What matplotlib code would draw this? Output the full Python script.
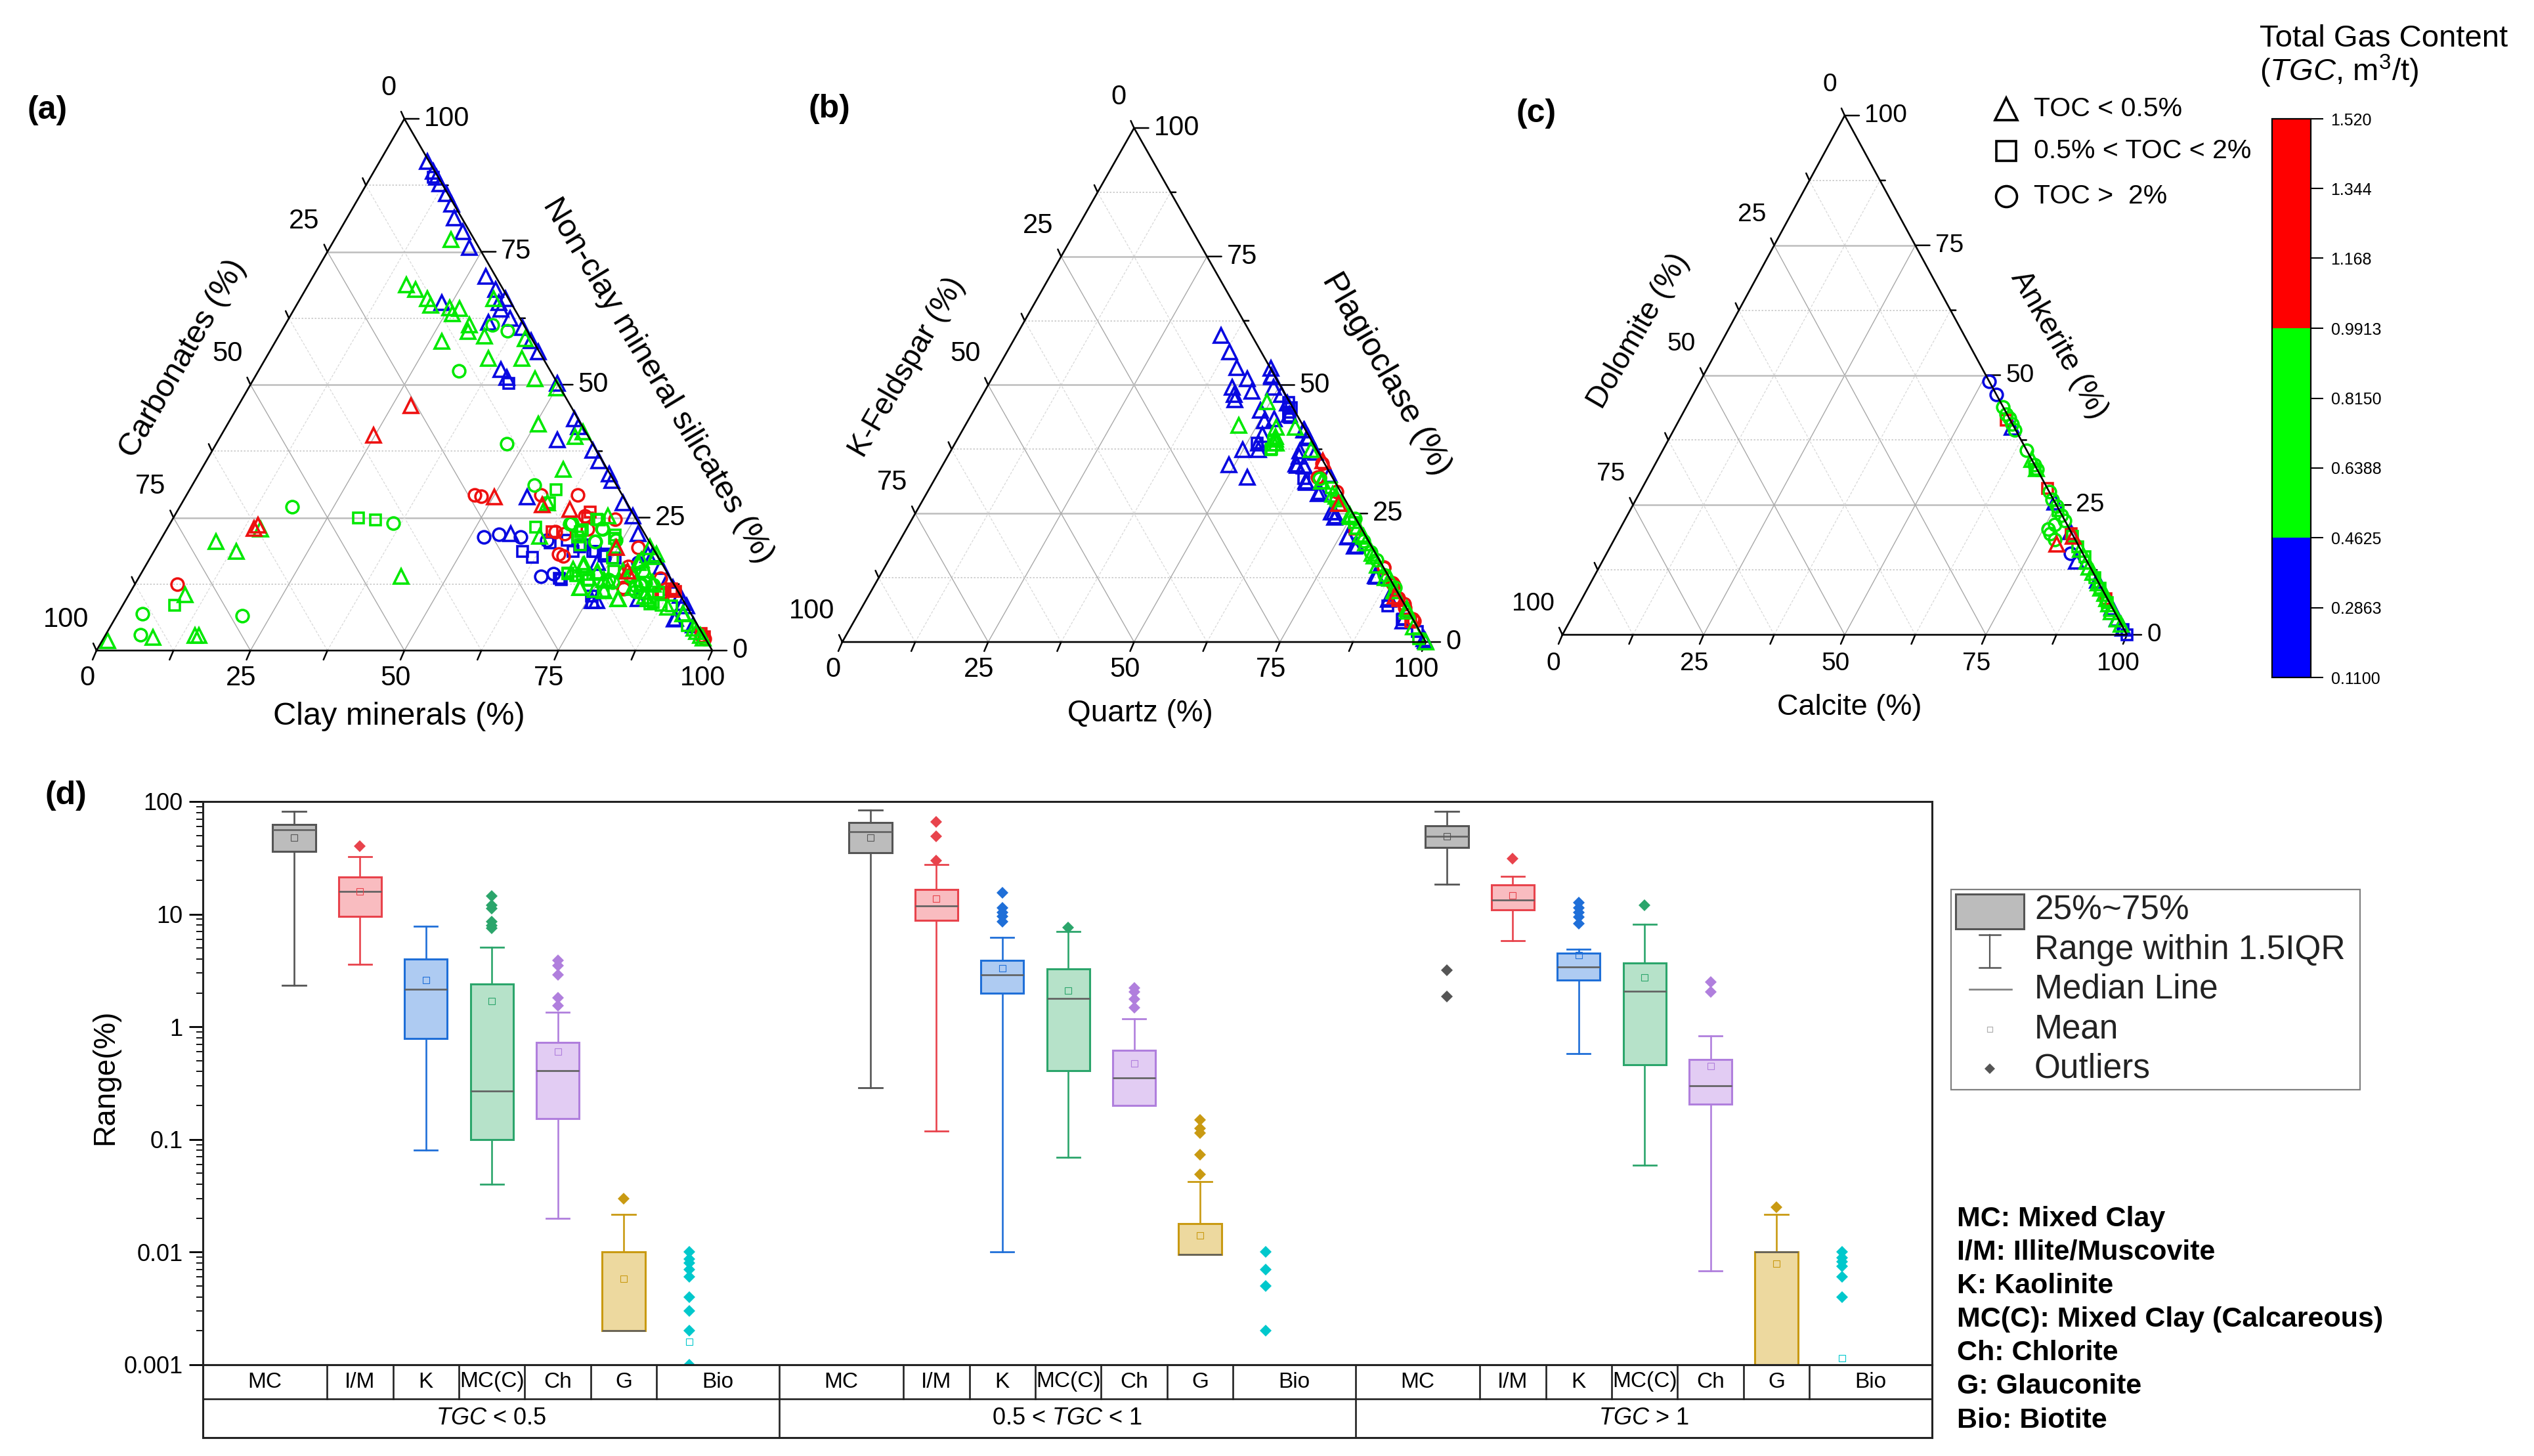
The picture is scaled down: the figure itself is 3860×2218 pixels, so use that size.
import matplotlib
matplotlib.use("Agg")
import matplotlib.pyplot as plt
from matplotlib.colors import ListedColormap, BoundaryNorm
from matplotlib.cm import ScalarMappable
from matplotlib.ticker import LogLocator, NullFormatter
from matplotlib.patches import Rectangle

plt.rcParams['font.family'] = ['Liberation Sans', 'DejaVu Sans']
plt.rcParams['mathtext.fontset'] = 'custom'
plt.rcParams['mathtext.rm'] = 'Liberation Sans'
plt.rcParams['mathtext.it'] = 'Liberation Sans:italic'
plt.rcParams['mathtext.bf'] = 'Liberation Sans:bold'

W, H = 3860, 2218
BLUE, GREEN, RED = '#0808e0', '#00e800', '#ee1010'

# Panel (a): carbonates and non-clay silicates (%), clay is what is left
a_tri_blue_carb = [0.3, 0.3, 0.3, 0.3, 0.2, 0.3, 1.2, 1.1, 1.5, 1.6, 1.2, 0.5, 2, 2.2, 1.6, 5.5, 0.4, 0.3, 0.1, 7.9, 7.7, 0.1, 0.6, 0.7, 5.4, 0.6, 0.6, 0.1, 0.3, 0.6, 0.3, 1, 15.6, 21.7, 11.2, 0.5, 0.6, 2.9, 14.1, 0.4, 0.2, 0.7, 10.4, 7.2,
                   14.85, 3.27, 1.47, 0.48, 0, 0]
a_tri_blue_top = [92, 90.1, 89, 87.8, 85.9, 84, 81.3, 78.8, 75.8, 70.4, 67.9, 66.2, 65.4, 64.2, 62.5, 61.7, 60.8, 58.3, 56.2, 52.9, 51.3, 50.2, 43.6, 42.1, 39.6, 37.6, 35.7, 33.2, 32, 27.8, 25.3, 22, 28.9, 22, 65.4, 18.2, 13.2, 6.1, 9.4, 11.9, 9, 4.8, 16.5, 9.8,
                  9.39, 5.89, 18.03, 15.76, 10.42, 8.36]
a_sq_blue_carb = [21.5, 20.5, 16.2, 13.2, 11.1, 9.7, 8.3, 18, 14.5, 8, 0.8, 8.68, 7.11, 10.04, 11.76, 13.24, 17.87, 15.05]
a_sq_blue_top = [18.6, 17.5, 20.3, 20.7, 19.9, 18.6, 18.2, 13.6, 10.3, 50.2, 89, 17.82, 17.41, 18.65, 19.47, 18.65, 13.3, 9]
a_ci_blue_carb = [26.5, 23.8, 20.4, 20.8, 18.6, 16.5, 3.8]
a_ci_blue_top = [21.3, 21.8, 21.4, 14, 14.4, 20.7, 16.5]

a_tri_red_carb = [25.9, 34.8, 20.9, 13.9, 9.9, 5.9, 62, 62.9, 6.3]
a_tri_red_top = [46, 40.5, 28.9, 27.4, 26.5, 19.4, 23.6, 23, 14.9]
a_sq_red_carb = [6.8, 7.8, 14.8, 2.9, 0.4, 0.2, 0.75, 2.69, 0]
a_sq_red_top = [26.1, 24.9, 22.4, 10.9, 11.1, 3.2, 11.65, 10.62, 2.6]
a_ci_red_carb = [23.9, 23, 13.2, 7.2, 8, 3.4, 14.3, 13, 8.9, 15.8, 15.3, 2.4, 1.6, 80.6, 8.6, 0.6, 0.4, 6.3, 6.75, 5.81, 8.57, 0.16]
a_ci_red_top = [29.3, 29, 29.3, 29.3, 25.3, 24.7, 22.4, 22, 22.8, 18.2, 17.8, 19.4, 13.6, 12.5, 11.9, 11.5, 2.8, 14.2, 14.94, 15.76, 11.65, 2.18]

a_tri_green_carb = [3.8, 15.3, 14.2, 13.2, 13.2, 10.4, 8.9, 10.6, 8.8, 9.7, 7.4, 14.9, 2.4, 3.5, 8.9, 3.2, 0.6, 7, 2.1, 0.5, 7.1, 1, 61.9, 70.4, 68, 80.4, 97.2, 89.6, 82.6, 82, 43.5, 13, 11.2, 10.4, 15.5, 13.3, 10.4, 3.8, 3.3, 5.8, 0, 3.1, 1.2, 0.8, 0.3, 12.9, 4.3, 17.3, 6.1, 15, 7.1, 6.9,
                    12.7, 11.29, 10.94, 15.57, 11.97, 10.38, 3.05, 3.44, 3.36, 5.59, 1.34, 0.9, 0.56, 0.61, 0.39]
a_tri_green_top = [77.3, 68.8, 67.9, 66.2, 65, 64.5, 64.3, 63.3, 61.2, 60, 59.1, 58.1, 66.2, 54.9, 54.9, 51.1, 49.4, 42.6, 40.3, 41.1, 34.1, 58.7, 22.8, 20.5, 18.6, 10.5, 1.9, 2.5, 2.8, 2.8, 14, 16.1, 14.9, 13.2, 11.9, 11.5, 9.8, 16.5, 12.8, 10.3, 18.2, 8.2, 6.9, 3.6, 2.3, 27.8, 25.3, 21.5, 19.4, 15.3, 14.9, 11.9,
                   16.18, 14.74, 13.3, 11.86, 11.24, 9.8, 17, 15.15, 12.47, 9.8, 6.92, 4.24, 2.8, 17.62, 19.47]
a_sq_green_carb = [45, 42.4, 83.1, 10.2, 12.5, 17.1, 10.2, 6.4, 11.5, 16.3, 13.6, 7.5, 5.3, 5.1, 12.2,
                   16.19, 15.15, 13.99, 13.43, 8.53, 4.08, 2.4, 5.74, 3.19, 11.2, 9.77, 6, 4.95, 1.76]
a_sq_green_top = [25, 24.6, 8.5, 30.3, 27.8, 23.2, 22.4, 24.7, 19.9, 14.4, 13.2, 17.4, 21.1, 9, 11.1,
                  14.53, 14.12, 14.32, 13.3, 14.94, 8.56, 8.36, 8.77, 11.03, 21.32, 22.76, 24.61, 21.73, 4.65]
a_ci_green_carb = [14.8, 5.1, 3.2, 13.9, 13.3, 54.7, 39.8, 89.1, 91.4, 73.1, 10.9, 8.8, 6.4, 6.3, 5.5, 6.9, 3.4, 3.8,
                   9.73, 6.19, 6.3, 5.31, 4.5, 6.21, 10.23, 11.2, 6.46, 8.77, 5.29]
a_ci_green_top = [52.6, 61.2, 60.1, 38.9, 31.1, 27, 24, 6.9, 3, 6.5, 23.9, 20.5, 22.8, 14, 12.4, 11.1, 12.4, 14.9,
                  12.88, 13.91, 12.27, 12.47, 12.68, 11.03, 13.3, 23.79, 22.97, 20.5, 20.7]

# Panel (b): K-feldspar and plagioclase (%), quartz is what is left
b_tri_blue_carb = [5.2, 5.4, 5.7, 5, 5.4, 8.4, 8.7, 9.2, 0, 0.6, 1.3, 0.6, 0.5, 1.2, 5.8, 6.2, 4.3, 7.8, 9.3, 10, 12.7, 16.5, 14.6, 0.2, 0.2, 3.7, 4.9, 3.7, 0.5, 0.2, 4.9, 3.5, 3.1, 3.2, 3.1, 2.4, 2, 2.1, 1.9, 0,
                   0.53, 0.25, 0.22, 3, 5, 3.74, 4.98, 3.96, 3.52, 3.49, 3.15, 2.88, 2.2, 2.29, 0]
b_tri_blue_top = [59.7, 56.4, 53.4, 51.2, 48.8, 49.5, 48.2, 47.1, 53.2, 51.6, 49.5, 48.2, 46.5, 44.3, 45.1, 43, 43.4, 40.4, 38.7, 37.4, 37.4, 34.5, 32, 41.3, 40, 36.1, 34.4, 34.4, 36.9, 32.6, 31.3, 29.2, 25.3, 24.5, 20.6, 18.8, 12.8, 8.5, 4.1, 0.3,
                  51.9, 41.25, 39.76, 37.2, 34.65, 34.22, 31, 28.9, 25.28, 24.22, 20.39, 18.7, 12.94, 8.25, 0.59]
b_sq_blue_carb = [0.3, 1.4, 9.6, 1.9, 5, 3, 0.5, 0.19, 0.72, 1.15, 1.58, 1.77]
b_sq_blue_top = [45.6, 43.7, 38.7, 4.3, 31.8, 7, 2, 46.57, 45.5, 44.65, 43.8, 4.42]
b_ci_blue_carb = []
b_ci_blue_top = []

b_tri_red_carb = [1.5, 0.8, 0.02]
b_tri_red_top = [27, 9, 35.3]
b_sq_red_carb = [1.2, 0.8, 0.6]
b_sq_red_top = [22, 8, 4]
b_ci_red_carb = [0.4, 2.5, 0.6, 0, 0, 0.5, 0.2, 0, 0, 0, 0, 0, 2.18]
b_ci_red_top = [34.8, 32.1, 29.3, 14.5, 11.1, 8.5, 6.7, 4.1, 14.43, 11.45, 4.42, 7.4, 32.1]

b_tri_green_carb = [3.9, 11, 4.8, 5.8, 6.3, 1.5, 1, 1.3, 0.6, 0.4, 0.6, 0, 2.1, 0, 0.5, 0.8, 0.4, 0.2, 0.6,
                    6.75, 5.98, 2.23, 1.63, 0.98, 0.77, 0.6, 0.69, 0.47, 0.73, 0.5, 0]
b_tri_green_top = [46.7, 42.1, 41.7, 40, 38.7, 41.7, 37.4, 28.3, 24.8, 20.6, 17.2, 12.4, 31.3, 0, 22.5, 15, 10, 6, 3,
                   38.7, 39.5, 31.24, 28.69, 26.99, 24.43, 21, 19.32, 16.77, 12.51, 9.96, 6.55]
b_sq_green_carb = [7.9, 6.5, 1.7, 0.7, 0.9, 1.2, 7.68]
b_sq_green_top = [37.4, 39.1, 27.4, 23.2, 0.7, 30, 37.6]
b_ci_green_carb = [2.3, 0.8, 0.7, 0.2, 0.6, 0, 0.4]
b_ci_green_top = [31.8, 19.7, 17.5, 24, 13, 10.6, 16]

# Panel (c): dolomite and ankerite (%), calcite is what is left
c_tri_blue_carb = [0, 1.8, 0, 0.2, 0.1, 0.3, 0, 0]
c_tri_blue_top = [10.5, 14.2, 5.3, 3.1, 1.3, 40, 25.5, 19.9]
c_sq_blue_carb = [0, 0.2]
c_sq_blue_top = [0, 1]
c_ci_blue_carb = [0, 0, 2.2]
c_ci_blue_top = [48.8, 46.3, 15.7]

c_tri_red_carb = [0, 3.7]
c_tri_red_top = [19, 17.5]
c_sq_red_carb = [0, 0.8, 0.1, 0.2]
c_sq_red_top = [28.2, 41.3, 19.5, 7]
c_ci_red_carb = []
c_ci_red_top = []

c_tri_green_carb = [0, 0, 0, 0, 0, 0.6, 0, 0.2, 0.1, 0.2, 0.1, 0.3, 0.2, 0.1, 0.2]
c_tri_green_top = [33.7, 32, 16.4, 14.2, 8, 4.4, 12, 6, 10, 3, 2, 13, 9, 7, 5]
c_sq_green_carb = [0.3, 0.3, 0, 0.4, 0.1, 0.2, 0.2, 0.3]
c_sq_green_top = [31.9, 23.9, 15, 6.2, 19, 11, 17, 9]
c_ci_green_carb = [0, 0, 0, 0, 0, 0, 3.7, 2.1, 3.6, 0, 0, 0, 3.8, 0.2, 0.1, 0.2, 0.1]
c_ci_green_top = [43.9, 41.7, 40.6, 35.5, 32.8, 31.9, 20.4, 21.3, 18.3, 27.5, 24.8, 22, 19.5, 26, 23, 42.5, 39.5]

# Panel (d): box statistics, order is MC, I/M, K, MC(C), Ch, G
minerals = ['MC', 'I/M', 'K', 'MC(C)', 'Ch', 'G', 'Bio']
box_edge = ['#555555', '#e8434c', '#1f6fd8', '#2ba56b', '#b07fdd', '#c99a12', '#00c8cc']
box_fill = ['#bcbcbc', '#f9bcc0', '#aecbf2', '#b6e2c9', '#e2ccf3', '#edd99f', '#00c8cc']
group_labels = ['$\\it{TGC}$ < 0.5', '0.5 < $\\it{TGC}$ < 1', '$\\it{TGC}$ > 1']
range_ticks = [0.001, 0.01, 0.1, 1, 10, 100]
range_tick_labels = ['0.001', '0.01', '0.1', '1', '10', '100']

low_1 = [2.34, 3.6, 0.08, 0.04, 0.02, 0.002]
q1_1 = [36.3, 9.5, 0.79, 0.1, 0.153, 0.002]
med_1 = [56, 15.9, 2.15, 0.27, 0.41, 0.002]
q3_1 = [62.7, 21.4, 4.0, 2.4, 0.73, 0.01]
high_1 = [82, 32.3, 7.8, 5.1, 1.35, 0.0215]
mean_1 = [47.5, 16, 2.6, 1.7, 0.6, 0.0058]
out_1 = [[], [40], [], [14.5, 12, 11.2, 8.6, 7.9, 7.5], [3.9, 3.5, 2.9, 1.8, 1.55], [0.03]]
bio_1 = [0.01, 0.0087, 0.008, 0.007, 0.006, 0.004, 0.003, 0.002, 0.001]
bio_mean_1 = [0.0016]

low_2 = [0.286, 0.119, 0.01, 0.0695, 0.2, 0.0095]
q1_2 = [35, 8.8, 2.0, 0.41, 0.2, 0.0095]
med_2 = [54, 11.8, 2.9, 1.78, 0.35, 0.0095]
q3_2 = [65, 16.6, 3.9, 3.25, 0.62, 0.018]
high_2 = [84, 27.7, 6.2, 7, 1.17, 0.0425]
mean_2 = [48, 13.8, 3.3, 2.1, 0.47, 0.0141]
out_2 = [[], [65.6, 49, 30], [15.5, 11.4, 10.4, 9.6, 8.6], [7.6], [2.2, 2.05, 1.75, 1.47], [0.15, 0.126, 0.114, 0.073, 0.049]]
bio_2 = [0.01, 0.007, 0.005, 0.002]
bio_mean_2 = []

low_3 = [18.5, 5.8, 0.58, 0.059, 0.0068, 0.001]
q1_3 = [39, 10.9, 2.6, 0.46, 0.207, 0.001]
med_3 = [49, 13.3, 3.4, 2.08, 0.30, 0.01]
q3_3 = [61, 18.2, 4.5, 3.67, 0.51, 0.01]
high_3 = [82, 21.8, 4.9, 8.1, 0.83, 0.0215]
mean_3 = [49, 14.6, 4.3, 2.75, 0.45, 0.0079]
out_3 = [[3.2, 1.87], [31], [12.6, 11.4, 10.4, 9.4, 8.2], [12], [2.5, 2.04], [0.025]]
bio_3 = [0.01, 0.0089, 0.0082, 0.0075, 0.006, 0.004]
bio_mean_3 = [0.00115]

# Colour scale
cbar_bounds = [0.11, 0.4625, 0.9913, 1.52]
cbar_ticks = [0.11, 0.2863, 0.4625, 0.6388, 0.8150, 0.9913, 1.168, 1.344, 1.52]
cbar_labels = ['0.1100', '0.2863', '0.4625', '0.6388', '0.8150', '0.9913', '1.168', '1.344', '1.520']


def px_axes(fig, left, top, right, bottom):
    return fig.add_axes([left / W, 1 - bottom / H, (right - left) / W, (bottom - top) / H])


def tern(carb, top):
    return 100 - carb - top / 2, top


def label_at(ax, text, xy, dx, dy, **kw):
    ax.annotate(text, xy=xy, xytext=(dx, dy), textcoords='offset pixels',
                annotation_clip=False, **kw)


def tick_at(ax, xy, dx, dy, lw=1.8):
    ax.annotate('', xy=xy, xytext=(dx, dy), textcoords='offset pixels', annotation_clip=False,
                arrowprops=dict(arrowstyle='-', lw=lw, color='black', shrinkA=0, shrinkB=0))


def draw_triangle(ax, fontsize=30):
    ax.set_xlim(0, 100)
    ax.set_ylim(0, 100)
    ax.axis('off')
    for v in [12.5, 25, 37.5, 50, 62.5, 75, 87.5]:
        major = v in (25, 50, 75)
        h_style = dict(color='#bdbdbd', lw=1.8) if major else dict(color='#c8c8c8', lw=1.2, ls=(0, (1.5, 1.5)))
        d_style = dict(color='#a8a8a8', lw=1.0) if major else dict(color='#d8d8d8', lw=0.9, ls=(0, (3, 2)))
        x0, y0 = tern(0, v)
        x1, y1 = tern(100 - v, v)
        ax.plot([x0, x1], [y0, y1], zorder=1, **h_style)
        x0, y0 = tern(v, 0)
        x1, y1 = tern(v, 100 - v)
        ax.plot([x0, x1], [y0, y1], zorder=1, **d_style)
        x0, y0 = tern(100 - v, 0)
        x1, y1 = tern(0, 100 - v)
        ax.plot([x0, x1], [y0, y1], zorder=1, **d_style)
    ax.plot([0, 100, 50, 0], [0, 0, 100, 0], color='black', lw=1.9, zorder=5, clip_on=False)
    for v in [0, 12.5, 25, 37.5, 50, 62.5, 75, 87.5, 100]:
        major = v % 25 == 0
        tick_at(ax, (v, 0), -6, -14)
        tick_at(ax, tern(0, v), 22 if major else 8, 0)
        tick_at(ax, ((100 - v) / 2, 100 - v), -5, 11)
        if major:
            name = str(int(v))
            label_at(ax, name, (v, 0), -14, -62, ha='center', va='bottom', fontsize=fontsize)
            label_at(ax, name, tern(0, v), 30, 0, ha='left', va='center', fontsize=fontsize)
            label_at(ax, name, ((100 - v) / 2, 100 - v), -12, 47, ha='right', va='center', fontsize=fontsize)


def draw_marks(ax, sets):
    for carb, top, marker, size, color in sets:
        x = [100 - c - t / 2 for c, t in zip(carb, top)]
        ax.plot(x, top, ls='none', marker=marker, ms=size, mfc='none', mec=color, mew=2.6,
                zorder=3, clip_on=False)


def panel_sets(tb, tt, sb, st, cb, ct, tr, ttr, sr, str_, cr, ctr, tg, ttg, sg, stg, cg, ctg):
    return [(sb, st, 's', 12, BLUE), (cb, ct, 'o', 13.5, BLUE), (tb, tt, '^', 16, BLUE),
            (sr, str_, 's', 12, RED), (cr, ctr, 'o', 13.5, RED),
            (sg, stg, 's', 12, GREEN), (tg, ttg, '^', 16, GREEN), (cg, ctg, 'o', 13.5, GREEN),
            (tr, ttr, '^', 16, RED)]


fig = plt.figure(figsize=(W / 100, H / 100), dpi=100, facecolor='white')

# overlay in picture pixels for free text and legend keys
lay = fig.add_axes([0, 0, 1, 1], zorder=10)
lay.set_xlim(0, W)
lay.set_ylim(H, 0)
lay.axis('off')
lay.patch.set_alpha(0)

# Ternary panels
ax_a = px_axes(fig, 147, 181, 1085, 991)
draw_triangle(ax_a)
draw_marks(ax_a, panel_sets(a_tri_blue_carb, a_tri_blue_top, a_sq_blue_carb, a_sq_blue_top, a_ci_blue_carb, a_ci_blue_top,
                            a_tri_red_carb, a_tri_red_top, a_sq_red_carb, a_sq_red_top, a_ci_red_carb, a_ci_red_top,
                            a_tri_green_carb, a_tri_green_top, a_sq_green_carb, a_sq_green_top, a_ci_green_carb, a_ci_green_top))
ax_b = px_axes(fig, 1283, 195, 2172, 978)
draw_triangle(ax_b)
draw_marks(ax_b, panel_sets(b_tri_blue_carb, b_tri_blue_top, b_sq_blue_carb, b_sq_blue_top, b_ci_blue_carb, b_ci_blue_top,
                            b_tri_red_carb, b_tri_red_top, b_sq_red_carb, b_sq_red_top, b_ci_red_carb, b_ci_red_top,
                            b_tri_green_carb, b_tri_green_top, b_sq_green_carb, b_sq_green_top, b_ci_green_carb, b_ci_green_top))
ax_c = px_axes(fig, 2380, 176, 3240, 967)
draw_triangle(ax_c, fontsize=28)
draw_marks(ax_c, panel_sets(c_tri_blue_carb, c_tri_blue_top, c_sq_blue_carb, c_sq_blue_top, c_ci_blue_carb, c_ci_blue_top,
                            c_tri_red_carb, c_tri_red_top, c_sq_red_carb, c_sq_red_top, c_ci_red_carb, c_ci_red_top,
                            c_tri_green_carb, c_tri_green_top, c_sq_green_carb, c_sq_green_top, c_ci_green_carb, c_ci_green_top))

titles = [('(a)', 72, 168, 0, 'bold', 36), ('(b)', 1263, 166, 0, 'bold', 36), ('(c)', 2340, 173, 0, 'bold', 36),
          ('(d)', 100, 1212, 0, 'bold', 36),
          ('Carbonates (%)', 279, 546, 60, 'normal', 35), ('Non-clay mineral silicates (%)', 1002, 580, -59, 'normal', 35),
          ('Clay minerals (%)', 608, 1091, 0, 'normal', 35),
          ('K-Feldspar (%)', 1382, 560, 60, 'normal', 33), ('Plagioclase (%)', 2112, 570, -60, 'normal', 36),
          ('Quartz (%)', 1737, 1087, 0, 'normal', 33),
          ('Dolomite (%)', 2496, 504, 60, 'normal', 33), ('Ankerite (%)', 3136, 525, -60, 'normal', 33),
          ('Calcite (%)', 2817, 1078, 0, 'normal', 32.5)]
for text, x, y, rot, weight, size in titles:
    lay.text(x, y, text, rotation=rot, fontweight=weight, fontsize=size, ha='center', va='center',
             rotation_mode='anchor')

# TOC legend
toc_rows = [('^', 'TOC < 0.5%', 166, 25), ('s', '0.5% < TOC < 2%', 230, 21), ('o', 'TOC >  2%', 299, 23)]
for marker, text, y, size in toc_rows:
    lay.plot([3056], [y], marker=marker, ms=size, mfc='none', mec='black', mew=2.6)
    lay.text(3098, y, text, fontsize=29.5, va='center', ha='left')

# Colour bar
cax = px_axes(fig, 3461, 181, 3520, 1032)
cmap = ListedColormap(['#0000ff', '#00ff00', '#ff0000'])
norm = BoundaryNorm(cbar_bounds, cmap.N)
cbar = fig.colorbar(ScalarMappable(norm=norm, cmap=cmap), cax=cax, spacing='proportional', ticks=cbar_ticks)
cbar.ax.set_yticklabels(cbar_labels)
cbar.ax.tick_params(length=14, width=1.5, labelsize=18, pad=8)
cbar.outline.set_linewidth(1.6)
lay.text(3442, 59, 'Total Gas Content', fontsize=34, va='center', ha='left')
lay.text(3442, 108, '($\\it{TGC}$, m$^3$/t)', fontsize=34, va='center', ha='left')

# Box plot
ax_d = px_axes(fig, 309, 1221, 2943, 2079)
unit = 100.4
x_left = 1 - 139 / unit
x_right = x_left + (2943 - 309) / unit
group_step = 878 / unit
ax_d.set_yscale('log')
groups = [(low_1, q1_1, med_1, q3_1, high_1, mean_1, out_1, bio_1, bio_mean_1),
          (low_2, q1_2, med_2, q3_2, high_2, mean_2, out_2, bio_2, bio_mean_2),
          (low_3, q1_3, med_3, q3_3, high_3, mean_3, out_3, bio_3, bio_mean_3)]
for g, (low, q1, med, q3, high, mean, out, bio, bio_mean) in enumerate(groups):
    base = g * group_step
    for i in range(6):
        stats = [dict(med=med[i], q1=q1[i], q3=q3[i], whislo=low[i], whishi=high[i], mean=mean[i], fliers=out[i])]
        edge = box_edge[i]
        ax_d.bxp(stats, positions=[base + i + 1], widths=0.65, capwidths=0.35, patch_artist=True,
                 showmeans=True, manage_ticks=False,
                 boxprops=dict(facecolor=box_fill[i], edgecolor=edge, lw=2.2),
                 whiskerprops=dict(color=edge, lw=1.9), capprops=dict(color=edge, lw=2.0),
                 medianprops=dict(color='#606060', lw=1.9),
                 meanprops=dict(marker='s', ms=7, mfc='none', mec=edge, mew=0.8),
                 flierprops=dict(marker='D', ms=9, mfc=edge, mec=edge, mew=0))
    bio_x = base + 7
    ax_d.plot([bio_x] * len(bio), bio, ls='none', marker='D', ms=9, mfc=box_edge[6], mec=box_edge[6], mew=0)
    ax_d.plot([bio_x] * len(bio_mean), bio_mean, ls='none', marker='s', ms=7, mfc='none', mec=box_edge[6], mew=0.8)

ax_d.set_xlim(x_left, x_right)
ax_d.set_ylim(0.001, 100)
ax_d.set_xticks([])
ax_d.set_yticks(range_ticks, range_tick_labels)
ax_d.yaxis.set_minor_locator(LogLocator(base=10, subs=range(2, 10), numticks=12))
ax_d.yaxis.set_minor_formatter(NullFormatter())
ax_d.tick_params(axis='y', which='major', length=15, width=2, labelsize=26, pad=7)
ax_d.tick_params(axis='y', which='minor', length=7, width=1.3)
for spine in ax_d.spines.values():
    spine.set_linewidth(2.2)
    spine.set_color('#222222')
lay.text(160, 1641, 'Range(%)', rotation=90, fontsize=33, ha='center', va='center')

# Category table under the box plot
ax_t = px_axes(fig, 309, 2079, 2943, 2190)
ax_t.set_xlim(x_left, x_right)
ax_t.set_ylim(2, 0)
ax_t.set_xticks([])
ax_t.set_yticks([])
for spine in ax_t.spines.values():
    spine.set_linewidth(2.2)
    spine.set_color('#222222')
row_split = 52 / 111 * 2
ax_t.axhline(row_split, color='#222222', lw=1.9)
for g in range(3):
    base = g * group_step
    edges = [base + x_left] + [base + i + 1.5 for i in range(6)] + [base + x_left + group_step]
    for e in edges[1:]:
        top_end = row_split if e != edges[-1] else 2
        ax_t.plot([e, e], [0, top_end], color='#222222', lw=1.9)
    for i, name in enumerate(minerals):
        ax_t.text((edges[i] + edges[i + 1]) / 2, row_split / 2, name, ha='center', va='center', fontsize=24)
    ax_t.text((edges[0] + edges[-1]) / 2, (row_split + 2) / 2, group_labels[g], ha='center', va='center', fontsize=26)

# Box plot legend
lay.add_patch(Rectangle((2972, 1355), 623, 305, fc='white', ec='#808080', lw=1.6))
lay.add_patch(Rectangle((2979, 1362), 104, 53, fc='#bcbcbc', ec='#555555', lw=2.2))
lay.plot([3031, 3031], [1424, 1474], color='#555555', lw=1.6)
lay.plot([3015, 3047], [1424, 1424], color='#555555', lw=1.8)
lay.plot([3015, 3047], [1474, 1474], color='#555555', lw=1.8)
lay.plot([3000, 3064], [1507, 1507], color='#808080', lw=1.9)
lay.plot([3031], [1568], marker='s', ms=6, mfc='none', mec='#b0b0b0', mew=0.9)
lay.plot([3031], [1628], marker='D', ms=8, mfc='#555555', mec='#555555', mew=0)
legend_rows = [('25%~75%', 1387), ('Range within 1.5IQR', 1447), ('Median Line', 1507), ('Mean', 1568), ('Outliers', 1628)]
for text, y in legend_rows:
    lay.text(3099, y, text, fontsize=37, va='center', ha='left', color='#222222')

# Mineral key
key_rows = ['MC: Mixed Clay', 'I/M: Illite/Muscovite', 'K: Kaolinite', 'MC(C): Mixed Clay (Calcareous)',
            'Ch: Chlorite', 'G: Glauconite', 'Bio: Biotite']
key_y = [1857, 1908, 1959, 2010, 2061, 2112, 2164]
for text, y in zip(key_rows, key_y):
    lay.text(2981, y, text, fontsize=31, fontweight='bold', va='center', ha='left')

fig.savefig('out.png', dpi=100, facecolor='white')
